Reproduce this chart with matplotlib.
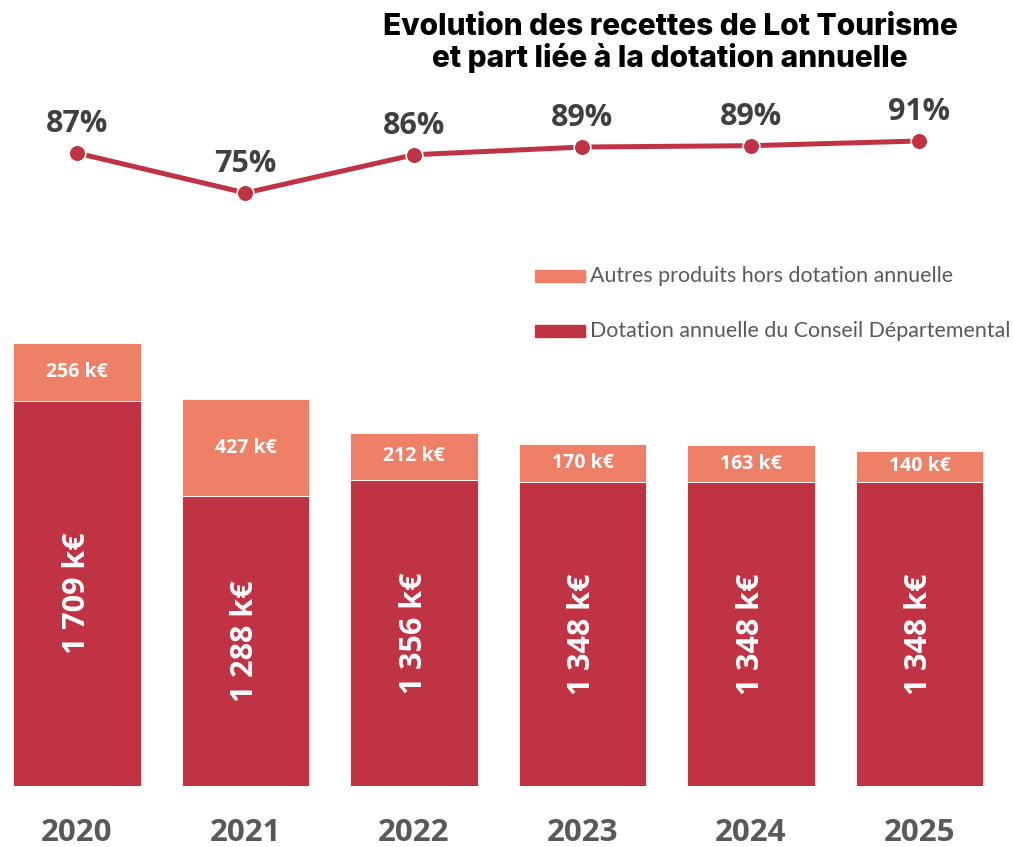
import matplotlib
matplotlib.use("Agg")
import matplotlib.pyplot as plt
from matplotlib.patches import Rectangle

years = ["2020", "2021", "2022", "2023", "2024", "2025"]
dotation = [1709, 1288, 1356, 1348, 1348, 1348]
autres = [256, 427, 212, 170, 163, 140]
share = [87.0, 75.1, 86.5, 88.8, 89.2, 90.6]
legend_labels = ["Autres produits hors dotation annuelle",
                 "Dotation annuelle du Conseil Départemental"]
title = "Evolution des recettes de Lot Tourisme\net part liée à la dotation annuelle"

C_DOT = "#C03344"
C_AUT = "#EF8068"
GRAY = "#404040"
GRAY2 = "#595959"
FONT = "Open Sans"

W, H = 1013, 847
fig = plt.figure(figsize=(W / 100, H / 100), dpi=100)

def fy(px):
    return 1 - px / H

x = list(range(len(years)))
xlim = (-0.457, 5.555)

# Bars
bar_bottom_px, bar_top_px = 786, 250
axb = fig.add_axes([0, fy(bar_bottom_px), 1, (bar_bottom_px - bar_top_px) / H])
axb.set_xlim(*xlim)
axb.set_ylim(0, (bar_bottom_px - bar_top_px) / 0.2254)
axb.bar(x, dotation, width=0.754, color=C_DOT, edgecolor="white", linewidth=0.6)
axb.bar(x, autres, bottom=dotation, width=0.754, color=C_AUT, edgecolor="white", linewidth=0.6)
for i in x:
    axb.text(i, dotation[i] / 2, f"{dotation[i]:,} k€".replace(",", " "),
             rotation=90, ha="center", va="center", color="white",
             fontsize=22, fontweight="bold", family=FONT)
    axb.text(i, dotation[i] + autres[i] / 2, f"{autres[i]} k€",
             ha="center", va="center", color="white",
             fontsize=14, fontweight="bold", family=FONT)
axb.axis("off")

# Year labels
for i in x:
    axb.text(i, -207, years[i], ha="center", va="center", color=GRAY2,
             fontsize=22.5, fontweight="bold", family=FONT, clip_on=False)

# Line
axl = fig.add_axes([0, fy(230), 1, (230 - 90) / H])
axl.set_xlim(*xlim)
axl.set_ylim(64.06, 105.8)
axl.plot(x, share, color=C_DOT, linewidth=3.6, marker="o", markersize=12,
         markeredgecolor="white", markeredgewidth=1.2)
for i in x:
    axl.annotate(f"{share[i]:.0f}%", (i, share[i]), xytext=(0, 21),
                 textcoords="offset points", ha="center", va="center",
                 color=GRAY, fontsize=22, fontweight="bold", family=FONT)
axl.axis("off")

# Title
fig.text(670 / W, fy(43), title, ha="center", va="center", fontsize=21.5,
         fontweight="heavy", family="Inter", color="black", linespacing=1.1)

# Legend
for k, (lab, col, yc) in enumerate([(legend_labels[0], C_AUT, 276),
                                      (legend_labels[1], C_DOT, 331)]):
    fig.patches.append(Rectangle((535 / W, fy(yc + 6)), 50 / W, 12 / H,
                                 transform=fig.transFigure, color=col))
    fig.text(590 / W, fy(yc), lab, ha="left", va="center", fontsize=15.4,
             family="Lato", color=GRAY2)

fig.savefig("out.png", dpi=100)
